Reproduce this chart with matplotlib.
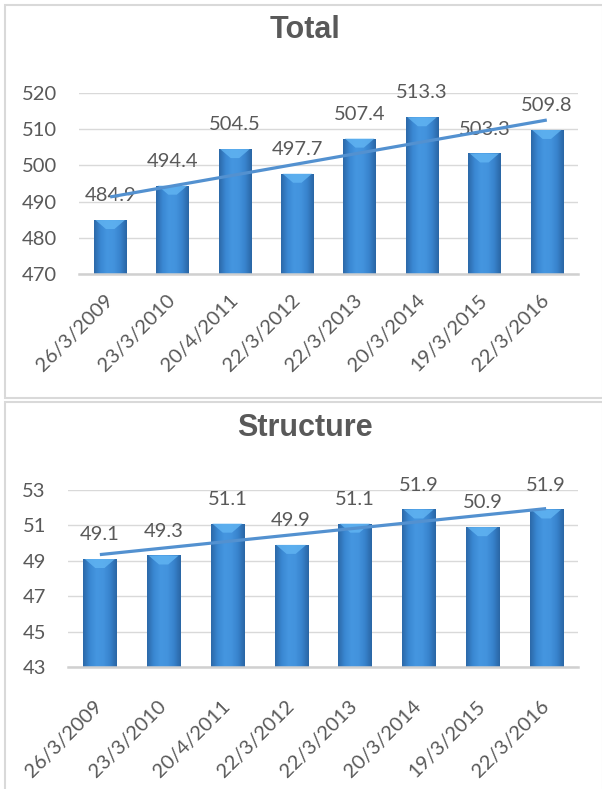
import numpy as np
import matplotlib
matplotlib.use("Agg")
import matplotlib.pyplot as plt
from matplotlib.patches import Rectangle, Polygon
from matplotlib.colors import LinearSegmentedColormap

dates = ["26/3/2009", "23/3/2010", "20/4/2011", "22/3/2012",
         "22/3/2013", "20/3/2014", "19/3/2015", "22/3/2016"]
total = [484.9, 494.4, 504.5, 497.7, 507.4, 513.3, 503.3, 509.8]
structure = [49.1, 49.3, 51.1, 49.9, 51.1, 51.9, 50.9, 51.9]
total_ticks = [470, 480, 490, 500, 510, 520]
structure_ticks = [43, 45, 47, 49, 51, 53]

W, H = 602, 789
fig = plt.figure(figsize=(W / 100, H / 100), dpi=100)
fig.patch.set_facecolor("white")

TXT = "#595959"
GRID = "#D9D9D9"
FONT = ["Lato", "DejaVu Sans"]

bar_cmap = LinearSegmentedColormap.from_list(
    "bar", ["#2C69A9", "#3A88D3", "#4596E0", "#4393DD", "#3883CD", "#2A66A5"])


def px_axes(l, t, r, b):
    return fig.add_axes([l / W, 1 - b / H, (r - l) / W, (b - t) / H])


def panel(title, ax_box, vals, ticks, title_y, box, tick_pad):
    x0, y0, x1, y1 = box
    fig.patches.append(Rectangle((x0 / W, 1 - y1 / H), (x1 - x0) / W, (y1 - y0) / H,
                                 transform=fig.transFigure, fill=False,
                                 edgecolor="#D9D9D9", lw=1.5))
    fig.text(305 / W, 1 - title_y / H, title, ha="center", va="center",
             fontsize=22, fontweight="bold", color=TXT,
             family=["Liberation Sans", "DejaVu Sans"])

    ax = px_axes(*ax_box)
    x = np.arange(len(vals))
    ax.set_xlim(-0.5, len(vals) - 0.5)
    ax.set_ylim(ticks[0], ticks[-1])
    ax.set_yticks(ticks)
    ax.yaxis.grid(True, color=GRID, lw=1.0)
    ax.set_axisbelow(True)
    for s in ["top", "right", "left"]:
        ax.spines[s].set_visible(False)
    ax.spines["bottom"].set_color("#D0D0D0")
    ax.spines["bottom"].set_linewidth(1.8)
    ax.spines["bottom"].set_zorder(5)
    ax.tick_params(axis="y", length=0, pad=16, labelsize=14.5, labelcolor=TXT)
    ax.tick_params(axis="x", length=0, pad=tick_pad, labelsize=14.5, labelcolor=TXT)
    ax.set_xticks(x)
    ax.set_xticklabels(dates, rotation=45, ha="right", va="center",
                       rotation_mode="anchor")
    for lab in ax.get_xticklabels() + ax.get_yticklabels():
        lab.set_family(FONT)

    bars = ax.bar(x, np.array(vals) - ticks[0], bottom=ticks[0], width=0.52,
                  color="#3A88D3", zorder=2)
    bb = ax.get_position()
    ppx = bb.width * W / (len(vals))
    ppy = bb.height * H / (ticks[-1] - ticks[0])
    grad = np.linspace(0, 1, 64).reshape(1, -1)
    for b in bars:
        bx0 = b.get_x()
        bw = b.get_width()
        by0 = b.get_y()
        by1 = by0 + b.get_height()
        im = ax.imshow(grad, cmap=bar_cmap, aspect="auto",
                       extent=(bx0, bx0 + bw, by0, by1), zorder=3,
                       interpolation="bilinear")
        im.set_clip_path(b)
        bh = 9 / ppy
        ins = 12 / ppx
        ax.add_patch(Polygon([(bx0 + 1.5 / ppx, by1), (bx0 + bw - 1.5 / ppx, by1),
                              (bx0 + bw - ins, by1 - bh), (bx0 + ins, by1 - bh)],
                             closed=True, facecolor="#62B5F3", edgecolor="none",
                             alpha=0.8, zorder=4))
    ax.set_xlim(-0.5, len(vals) - 0.5)
    ax.set_ylim(ticks[0], ticks[-1])

    for xi, v in zip(x, vals):
        ax.annotate(f"{v:.1f}", (xi, v), xytext=(0, 17.5), textcoords="offset points",
                    ha="center", va="center", fontsize=14.5, color=TXT,
                    family=FONT, annotation_clip=False, zorder=6)

    k, c = np.polyfit(x, vals, 1)
    ax.plot([x[0], x[-1]], [c, c + k * x[-1]], color="#5391D0", lw=2.3,
            solid_capstyle="butt", zorder=7, clip_on=False)
    return ax


panel("Total", (79, 93, 578, 274), total, total_ticks, 30, (5, 5, 603, 398), 17)
panel("Structure", (68, 490, 578, 667), structure, structure_ticks, 428,
      (5, 401.5, 603, 795), 26)

fig.savefig("out.png", dpi=100, facecolor="white")
